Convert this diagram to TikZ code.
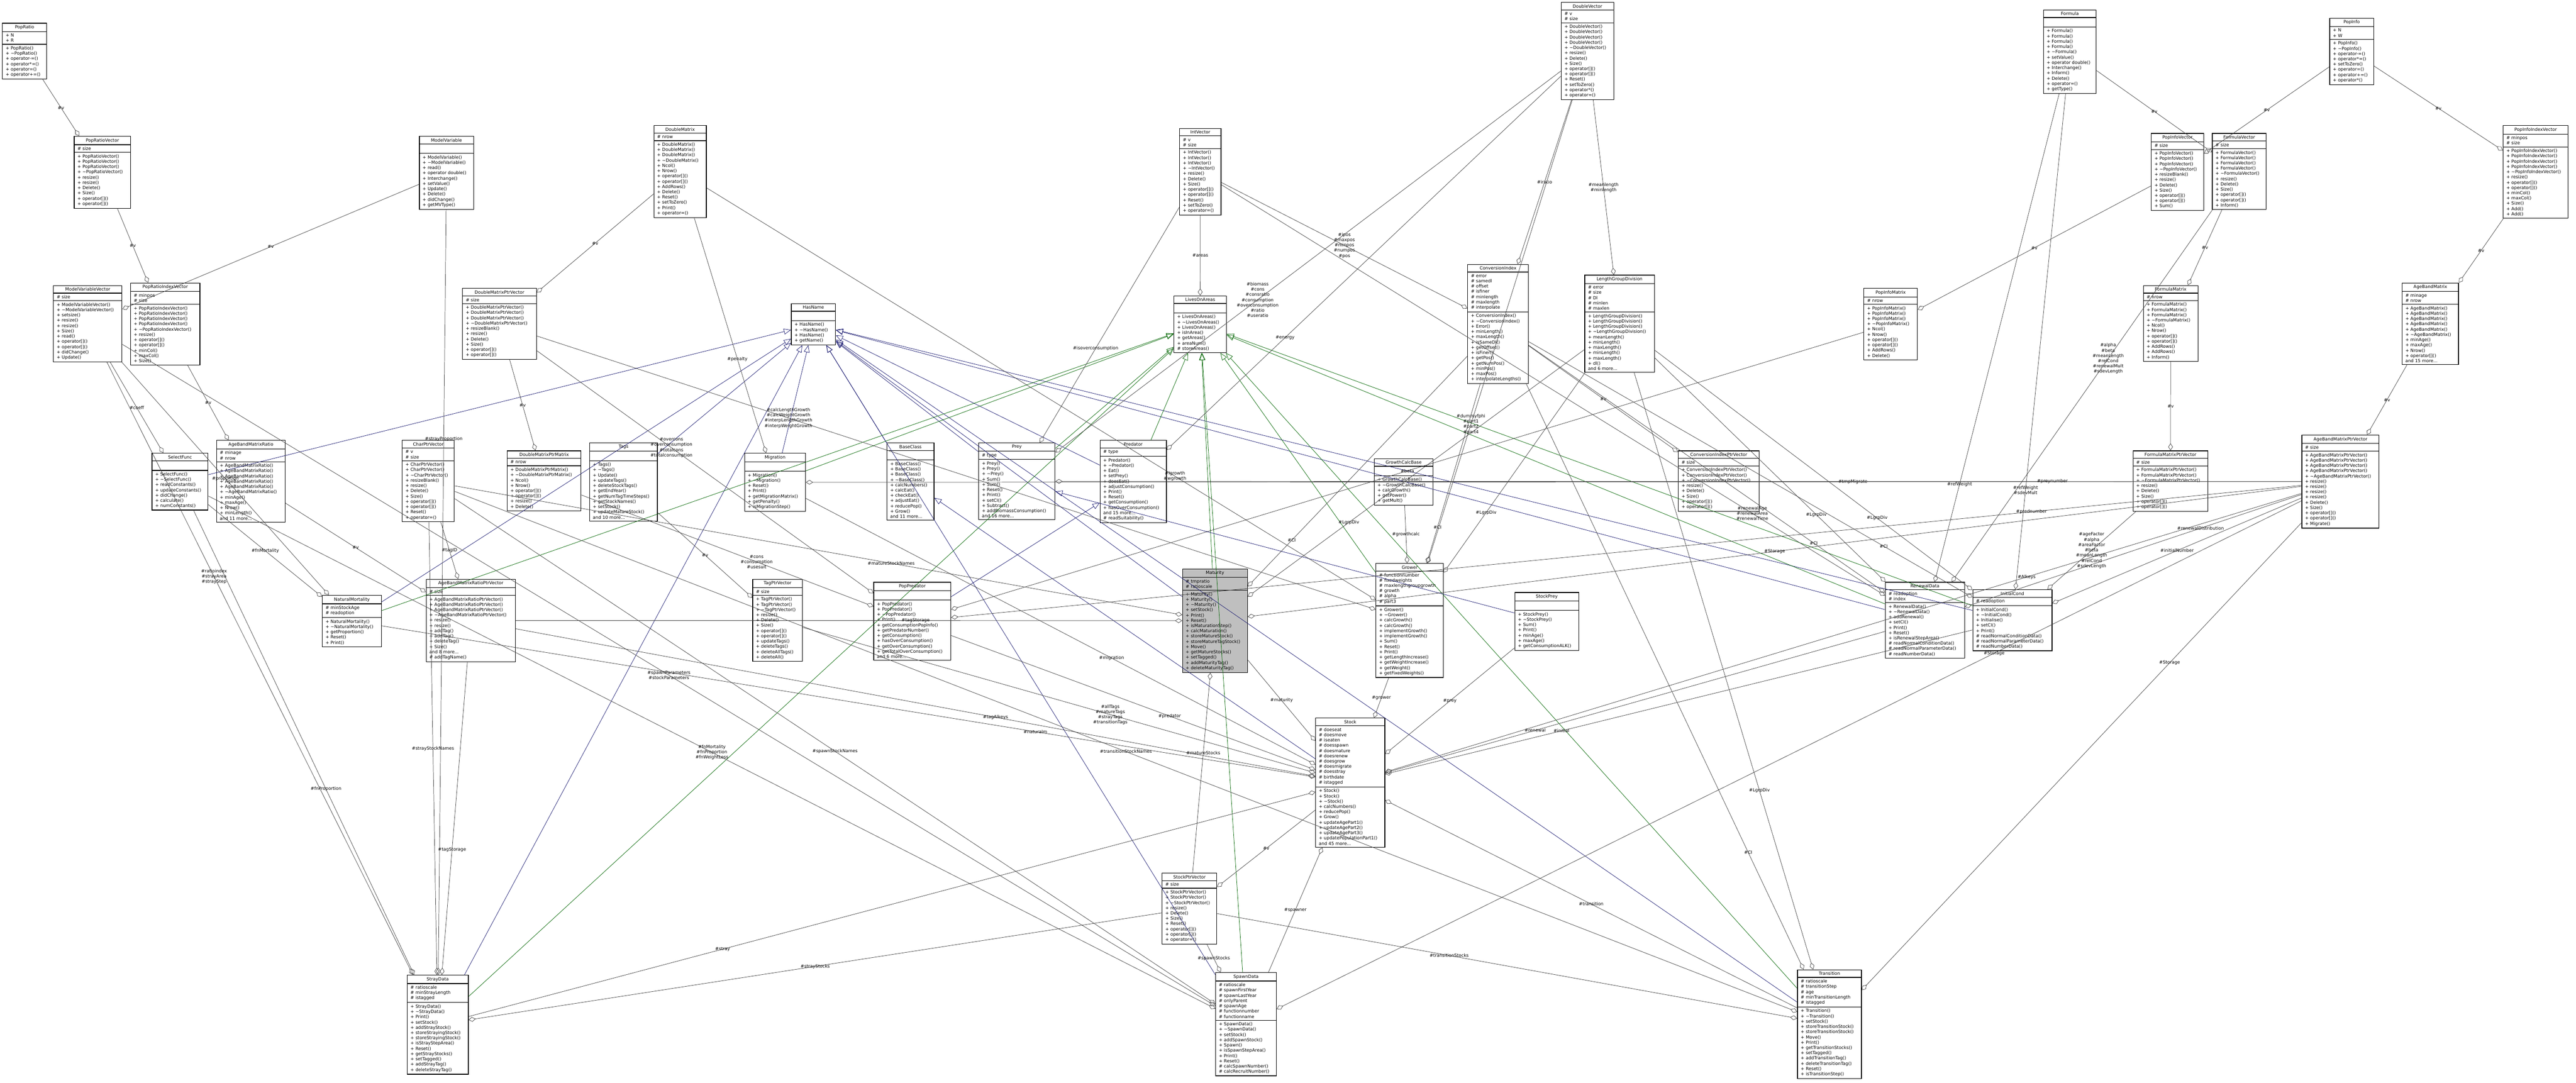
\documentclass[tikz,border=0pt]{standalone}
\usepackage{fontspec}
\usepackage{tikz}
\usetikzlibrary{shapes.multipart,arrows.meta}
\newfontfamily\clsfamily{DejaVu Sans}
\newcommand{\clsfont}{\clsfamily\fontsize{3.5}{4.2}\selectfont}
\newcommand{\til}{\textasciitilde}
\definecolor{edgegray}{HTML}{404040}
\definecolor{inhblue}{HTML}{191970}
\definecolor{inhgreen}{HTML}{006400}

\begin{document}
\begin{tikzpicture}[
    cls/.style={rectangle split, rectangle split parts=3, draw, line width=0.5pt, font=\clsfont,
        align=left, rectangle split part align={center,left,left}, inner xsep=0.9mm, inner ysep=0.5mm,
        anchor=north west, fill=white},
    agg/.style={draw=edgegray, line width=0.3pt, -{Diamond[open,length=2mm,width=1.3mm]}},
    inh/.style={draw=inhblue, line width=0.3pt, -{Triangle[open,length=2mm,width=1.6mm]}},
    inhp/.style={draw=inhgreen, line width=0.3pt, -{Triangle[open,length=2mm,width=1.6mm]}},
    lbl/.style={font=\clsfont, align=center, inner sep=0.3pt}]
\useasboundingbox (0,0) rectangle (72.17,-30.33);

% containers and vectors
\node[cls, minimum width=1.24cm] (poprat) at (0.06,-0.64) {PopRatio\nodepart{two}+ N\\+ R\nodepart{three}+ PopRatio()\\+ \til PopRatio()\\+ operator-=()\\+ operator*=()\\+ operator=()\\+ operator+=()};
\node[cls, minimum width=1.58cm] (popratvec) at (2.07,-3.81) {PopRatioVector\nodepart{two}\# size\nodepart{three}+ PopRatioVector()\\+ PopRatioVector()\\+ PopRatioVector()\\+ \til PopRatioVector()\\+ resize()\\+ resize()\\+ Delete()\\+ Size()\\+ operator[]()\\+ operator[]()};
\node[cls, minimum width=1.52cm] (modvar) at (11.74,-3.81) {ModelVariable\nodepart{two}\strut\nodepart{three}+ ModelVariable()\\+ \til ModelVariable()\\+ read()\\+ operator double()\\+ Interchange()\\+ setValue()\\+ Update()\\+ Delete()\\+ didChange()\\+ getMVType()};
\node[cls, minimum width=1.92cm] (modvarvec) at (1.49,-7.99) {ModelVariableVector\nodepart{two}\# size\nodepart{three}+ ModelVariableVector()\\+ \til ModelVariableVector()\\+ setsize()\\+ resize()\\+ resize()\\+ Size()\\+ read()\\+ operator[]()\\+ operator[]()\\+ didChange()\\+ Update()};
\node[cls, minimum width=1.94cm] (popratidx) at (3.65,-7.92) {PopRatioIndexVector\nodepart{two}\# minpos\\\# size\nodepart{three}+ PopRatioIndexVector()\\+ PopRatioIndexVector()\\+ PopRatioIndexVector()\\+ PopRatioIndexVector()\\+ \til PopRatioIndexVector()\\+ resize()\\+ operator[]()\\+ operator[]()\\+ minCol()\\+ maxCol()\\+ Size()};
\node[cls, minimum width=2.07cm] (dmptrvec) at (12.95,-8.07) {DoubleMatrixPtrVector\nodepart{two}\# size\nodepart{three}+ DoubleMatrixPtrVector()\\+ DoubleMatrixPtrVector()\\+ DoubleMatrixPtrVector()\\+ \til DoubleMatrixPtrVector()\\+ resizeBlank()\\+ resize()\\+ Delete()\\+ Size()\\+ operator[]()\\+ operator[]()};
\node[cls, minimum width=1.47cm] (dmat) at (18.31,-3.51) {DoubleMatrix\nodepart{two}\# nrow\nodepart{three}+ DoubleMatrix()\\+ DoubleMatrix()\\+ DoubleMatrix()\\+ \til DoubleMatrix()\\+ Ncol()\\+ Nrow()\\+ operator[]()\\+ operator[]()\\+ AddRows()\\+ Delete()\\+ Reset()\\+ setToZero()\\+ Print()\\+ operator=()};
\node[cls, minimum width=1.16cm] (intvec) at (33.04,-3.59) {IntVector\nodepart{two}\# v\\\# size\nodepart{three}+ IntVector()\\+ IntVector()\\+ IntVector()\\+ \til IntVector()\\+ resize()\\+ Delete()\\+ Size()\\+ operator[]()\\+ operator[]()\\+ Reset()\\+ setToZero()\\+ operator=()};
\node[cls, minimum width=1.24cm] (hasname) at (22.16,-8.50) {HasName\nodepart{two}\strut\nodepart{three}+ HasName()\\+ \til HasName()\\+ HasName()\\+ getName()};
\node[cls, minimum width=1.47cm] (lives) at (32.88,-8.28) {LivesOnAreas\nodepart{two}\strut\nodepart{three}+ LivesOnAreas()\\+ \til LivesOnAreas()\\+ LivesOnAreas()\\+ isInArea()\\+ getAreas()\\+ areaNum()\\\# storeAreas()};
\node[cls, minimum width=1.47cm] (dblvec) at (43.73,-0.06) {DoubleVector\nodepart{two}\# v\\\# size\nodepart{three}+ DoubleVector()\\+ DoubleVector()\\+ DoubleVector()\\+ DoubleVector()\\+ \til DoubleVector()\\+ resize()\\+ Delete()\\+ Size()\\+ operator[]()\\+ operator[]()\\+ Reset()\\+ setToZero()\\+ operator*()\\+ operator=()};
\node[cls, minimum width=1.70cm] (convidx) at (41.11,-7.40) {ConversionIndex\nodepart{two}\# error\\\# samedl\\\# offset\\\# isfiner\\\# minlength\\\# maxlength\\\# interpolate\nodepart{three}+ ConversionIndex()\\+ \til ConversionIndex()\\+ Error()\\+ minLength()\\+ maxLength()\\+ isSameDl()\\+ getOffset()\\+ isFiner()\\+ getPos()\\+ getNumPos()\\+ minPos()\\+ maxPos()\\+ interpolateLengths()};
\node[cls, minimum width=1.95cm] (lgrpdiv) at (44.39,-7.70) {LengthGroupDivision\nodepart{two}\# error\\\# size\\\# Dl\\\# minlen\\\# maxlen\nodepart{three}+ LengthGroupDivision()\\+ LengthGroupDivision()\\+ LengthGroupDivision()\\+ \til LengthGroupDivision()\\+ meanLength()\\+ minLength()\\+ maxLength()\\+ minLength()\\+ maxLength()\\+ dl()\\and 6 more...};
\node[cls, minimum width=1.50cm] (pimat) at (52.21,-8.07) {PopInfoMatrix\nodepart{two}\# nrow\nodepart{three}+ PopInfoMatrix()\\+ PopInfoMatrix()\\+ PopInfoMatrix()\\+ \til PopInfoMatrix()\\+ Ncol()\\+ Nrow()\\+ operator[]()\\+ operator[]()\\+ AddRows()\\+ Delete()};
\node[cls, minimum width=1.48cm] (formula) at (57.24,-0.27) {Formula\nodepart{two}\strut\nodepart{three}+ Formula()\\+ Formula()\\+ Formula()\\+ Formula()\\+ \til Formula()\\+ setValue()\\+ operator double()\\+ Interchange()\\+ Inform()\\+ Delete()\\+ operator=()\\+ getType()};
\node[cls, minimum width=1.23cm] (popinfo) at (65.26,-0.50) {PopInfo\nodepart{two}+ N\\+ W\nodepart{three}+ PopInfo()\\+ \til PopInfo()\\+ operator-=()\\+ operator*=()\\+ setToZero()\\+ operator=()\\+ operator+=()\\+ operator*()};
\node[cls, minimum width=1.47cm] (pivec) at (60.26,-3.73) {PopInfoVector\nodepart{two}\# size\nodepart{three}+ PopInfoVector()\\+ PopInfoVector()\\+ PopInfoVector()\\+ \til PopInfoVector()\\+ resizeBlank()\\+ resize()\\+ Delete()\\+ Size()\\+ operator[]()\\+ operator[]()\\+ Sum()};
\node[cls, minimum width=1.51cm] (fvec) at (61.97,-3.73) {FormulaVector\nodepart{two}\# size\nodepart{three}+ FormulaVector()\\+ FormulaVector()\\+ FormulaVector()\\+ FormulaVector()\\+ \til FormulaVector()\\+ resize()\\+ Delete()\\+ Size()\\+ operator[]()\\+ operator[]()\\+ Inform()};
\node[cls, minimum width=1.82cm] (piidx) at (70.12,-3.51) {PopInfoIndexVector\nodepart{two}\# minpos\\\# size\nodepart{three}+ PopInfoIndexVector()\\+ PopInfoIndexVector()\\+ PopInfoIndexVector()\\+ PopInfoIndexVector()\\+ \til PopInfoIndexVector()\\+ resize()\\+ operator[]()\\+ operator[]()\\+ minCol()\\+ maxCol()\\+ Size()\\+ Add()\\+ Add()};
\node[cls, minimum width=1.53cm] (fmat) at (60.04,-7.99) {FormulaMatrix\nodepart{two}\# nrow\nodepart{three}+ FormulaMatrix()\\+ FormulaMatrix()\\+ FormulaMatrix()\\+ \til FormulaMatrix()\\+ Ncol()\\+ Nrow()\\+ operator[]()\\+ operator[]()\\+ AddRows()\\+ AddRows()\\+ Inform()};
\node[cls, minimum width=1.58cm] (abmat) at (67.29,-7.92) {AgeBandMatrix\nodepart{two}\# minage\\\# nrow\nodepart{three}+ AgeBandMatrix()\\+ AgeBandMatrix()\\+ AgeBandMatrix()\\+ AgeBandMatrix()\\+ AgeBandMatrix()\\+ \til AgeBandMatrix()\\+ minAge()\\+ maxAge()\\+ Nrow()\\+ operator[]()\\and 15 more...};

% middle row
\node[cls, minimum width=1.57cm] (selfunc) at (4.25,-12.69) {SelectFunc\nodepart{two}\strut\nodepart{three}+ SelectFunc()\\+ \til SelectFunc()\\+ readConstants()\\+ updateConstants()\\+ didChange()\\+ calculate()\\+ numConstants()};
\node[cls, minimum width=1.92cm] (abmr) at (6.06,-12.33) {AgeBandMatrixRatio\nodepart{two}\# minage\\\# nrow\nodepart{three}+ AgeBandMatrixRatio()\\+ AgeBandMatrixRatio()\\+ AgeBandMatrixRatio()\\+ AgeBandMatrixRatio()\\+ AgeBandMatrixRatio()\\+ \til AgeBandMatrixRatio()\\+ minAge()\\+ maxAge()\\+ Nrow()\\+ minLength()\\and 11 more...};
\node[cls, minimum width=1.46cm] (charvec) at (11.26,-12.33) {CharPtrVector\nodepart{two}\# v\\\# size\nodepart{three}+ CharPtrVector()\\+ CharPtrVector()\\+ \til CharPtrVector()\\+ resizeBlank()\\+ resize()\\+ Delete()\\+ Size()\\+ operator[]()\\+ operator[]()\\+ Reset()\\+ operator=()};
\node[cls, minimum width=2.07cm] (dmptrmat) at (14.20,-12.62) {DoubleMatrixPtrMatrix\nodepart{two}\# nrow\nodepart{three}+ DoubleMatrixPtrMatrix()\\+ \til DoubleMatrixPtrMatrix()\\+ Ncol()\\+ Nrow()\\+ operator[]()\\+ operator[]()\\+ resize()\\+ Delete()};
\node[cls, minimum width=1.90cm] (tags) at (16.51,-12.40) {Tags\nodepart{two}\strut\nodepart{three}+ Tags()\\+ \til Tags()\\+ Update()\\+ updateTags()\\+ deleteStockTags()\\+ getEndYear()\\+ getNumTagTimeSteps()\\+ getStockNames()\\+ setStock()\\+ updateMatureStock()\\and 10 more...};
\node[cls, minimum width=1.66cm] (natmort) at (9.02,-16.67) {NaturalMortality\nodepart{two}\# minStockAge\\\# readoption\nodepart{three}+ NaturalMortality()\\+ \til NaturalMortality()\\+ getProportion()\\+ Reset()\\+ Print()};
\node[cls, minimum width=2.50cm] (abmrptr) at (11.93,-16.22) {AgeBandMatrixRatioPtrVector\nodepart{two}\# size\nodepart{three}+ AgeBandMatrixRatioPtrVector()\\+ AgeBandMatrixRatioPtrVector()\\+ AgeBandMatrixRatioPtrVector()\\+ \til AgeBandMatrixRatioPtrVector()\\+ resize()\\+ resize()\\+ addTag()\\+ addTag()\\+ deleteTag()\\+ Size()\\and 8 more...\\\# addTagName()};
\node[cls, minimum width=1.71cm] (migr) at (20.85,-12.69) {Migration\nodepart{two}\strut\nodepart{three}+ Migration()\\+ \til Migration()\\+ Reset()\\+ Print()\\+ getMigrationMatrix()\\+ getPenalty()\\+ isMigrationStep()};
\node[cls, minimum width=1.32cm] (baseclass) at (24.84,-12.40) {BaseClass\nodepart{two}\strut\nodepart{three}+ BaseClass()\\+ BaseClass()\\+ BaseClass()\\+ \til BaseClass()\\+ calcNumbers()\\+ calcEat()\\+ checkEat()\\+ adjustEat()\\+ reducePop()\\+ Grow()\\and 11 more...};
\node[cls, minimum width=2.14cm] (prey) at (27.41,-12.40) {Prey\nodepart{two}\# type\nodepart{three}+ Prey()\\+ Prey()\\+ \til Prey()\\+ Sum()\\+ Sum()\\+ Reset()\\+ Print()\\+ setCI()\\+ Subtract()\\+ addBiomassConsumption()\\and 16 more...};
\node[cls, minimum width=1.86cm] (pred) at (30.81,-12.33) {Predator\nodepart{two}\# type\nodepart{three}+ Predator()\\+ \til Predator()\\+ Eat()\\+ setPrey()\\+ doesEat()\\+ adjustConsumption()\\+ Print()\\+ Reset()\\+ getConsumption()\\+ hasOverConsumption()\\and 15 more...\\\# readSuitability()};
\node[cls, minimum width=1.39cm] (tagvec) at (21.08,-16.22) {TagPtrVector\nodepart{two}\# size\nodepart{three}+ TagPtrVector()\\+ TagPtrVector()\\+ \til TagPtrVector()\\+ resize()\\+ Delete()\\+ Size()\\+ operator[]()\\+ operator[]()\\+ updateTags()\\+ deleteTags()\\+ deleteAllTags()\\+ deleteAll()};
\node[cls, minimum width=2.16cm] (poppred) at (24.47,-16.30) {PopPredator\nodepart{two}\strut\nodepart{three}+ PopPredator()\\+ PopPredator()\\+ \til PopPredator()\\+ Print()\\+ getConsumptionPopInfo()\\+ getPredatorNumber()\\+ getConsumption()\\+ hasOverConsumption()\\+ getOverConsumption()\\+ getTotalOverConsumption()\\and 6 more...};
\node[cls, minimum width=1.82cm, fill=black!25] (matur) at (33.12,-15.93) {Maturity\nodepart{two}\# tmpratio\\\# ratioscale\nodepart{three}+ Maturity()\\+ Maturity()\\+ \til Maturity()\\+ setStock()\\+ Print()\\+ Reset()\\+ isMaturationStep()\\+ calcMaturation()\\+ storeMatureStock()\\+ storeMatureTagStock()\\+ Move()\\+ getMatureStocks()\\+ setTagged()\\+ addMaturityTag()\\+ deleteMaturityTag()};
\node[cls, minimum width=1.65cm] (growcalc) at (38.49,-12.84) {GrowthCalcBase\nodepart{two}\strut\nodepart{three}+ GrowthCalcBase()\\+ \til GrowthCalcBase()\\+ calcGrowth()\\+ getPower()\\+ getMult()};
\node[cls, minimum width=2.27cm] (ciptr) at (47.01,-12.62) {ConversionIndexPtrVector\nodepart{two}\# size\nodepart{three}+ ConversionIndexPtrVector()\\+ ConversionIndexPtrVector()\\+ \til ConversionIndexPtrVector()\\+ resize()\\+ Delete()\\+ Size()\\+ operator[]()\\+ operator[]()};
\node[cls, minimum width=1.89cm] (grower) at (38.54,-15.78) {Grower\nodepart{two}\# functionnumber\\\# fixedweights\\\# maxlengthgroupgrowth\\\# growth\\\# alpha\\\# part3\nodepart{three}+ Grower()\\+ \til Grower()\\+ calcGrowth()\\+ calcGrowth()\\+ implementGrowth()\\+ implementGrowth()\\+ Sum()\\+ Reset()\\+ Print()\\+ getLengthIncrease()\\+ getWeightIncrease()\\+ getWeight()\\+ getFixedWeights()};
\node[cls, minimum width=1.79cm] (stockprey) at (42.43,-16.59) {StockPrey\nodepart{two}\strut\nodepart{three}+ StockPrey()\\+ \til StockPrey()\\+ Sum()\\+ Print()\\+ minAge()\\+ maxAge()\\+ getConsumptionALK()};
\node[cls, minimum width=2.22cm] (renewal) at (52.81,-16.30) {RenewalData\nodepart{two}\# readoption\\\# index\nodepart{three}+ RenewalData()\\+ \til RenewalData()\\+ addRenewal()\\+ setCI()\\+ Print()\\+ Reset()\\+ isRenewalStepArea()\\\# readNormalConditionData()\\\# readNormalParameterData()\\\# readNumberData()};
\node[cls, minimum width=2.22cm] (initcond) at (55.26,-16.51) {InitialCond\nodepart{two}\# readoption\nodepart{three}+ InitialCond()\\+ \til InitialCond()\\+ Initialise()\\+ setCI()\\+ Print()\\\# readNormalConditionData()\\\# readNormalParameterData()\\\# readNumberData()};
\node[cls, minimum width=2.10cm] (fmptr) at (59.75,-12.62) {FormulaMatrixPtrVector\nodepart{two}\# size\nodepart{three}+ FormulaMatrixPtrVector()\\+ FormulaMatrixPtrVector()\\+ \til FormulaMatrixPtrVector()\\+ resize()\\+ Delete()\\+ Size()\\+ operator[]()\\+ operator[]()};
\node[cls, minimum width=2.16cm] (abmptr) at (64.48,-12.18) {AgeBandMatrixPtrVector\nodepart{two}\# size\nodepart{three}+ AgeBandMatrixPtrVector()\\+ AgeBandMatrixPtrVector()\\+ AgeBandMatrixPtrVector()\\+ AgeBandMatrixPtrVector()\\+ \til AgeBandMatrixPtrVector()\\+ resize()\\+ resize()\\+ resize()\\+ resize()\\+ Delete()\\+ Size()\\+ operator[]()\\+ operator[]()\\+ Migrate()};

% bottom row
\node[cls, minimum width=1.71cm] (stray) at (11.40,-27.31) {StrayData\nodepart{two}\# ratioscale\\\# minStrayLength\\\# istagged\nodepart{three}+ StrayData()\\+ \til StrayData()\\+ Print()\\+ setStock()\\+ addStrayStock()\\+ storeStrayingStock()\\+ storeStrayingStock()\\+ isStrayStepArea()\\+ Reset()\\+ getStrayStocks()\\+ setTagged()\\+ addStrayTag()\\+ deleteStrayTag()};
\node[cls, minimum width=1.53cm] (stockvec) at (32.55,-24.45) {StockPtrVector\nodepart{two}\# size\nodepart{three}+ StockPtrVector()\\+ StockPtrVector()\\+ \til StockPtrVector()\\+ resize()\\+ Delete()\\+ Size()\\+ Reset()\\+ operator[]()\\+ operator[]()\\+ operator=()};
\node[cls, minimum width=1.70cm] (spawn) at (34.05,-27.24) {SpawnData\nodepart{two}\# ratioscale\\\# spawnFirstYear\\\# spawnLastYear\\\# onlyParent\\\# spawnAge\\\# functionnumber\\\# functionname\nodepart{three}+ SpawnData()\\+ \til SpawnData()\\+ setStock()\\+ addSpawnStock()\\+ Spawn()\\+ isSpawnStepArea()\\+ Print()\\+ Reset()\\\# calcSpawnNumber()\\\# calcRecruitNumber()};
\node[cls, minimum width=1.94cm] (stock) at (36.85,-20.11) {Stock\nodepart{two}\# doeseat\\\# doesmove\\\# iseaten\\\# doesspawn\\\# doesmature\\\# doesrenew\\\# doesgrow\\\# doesmigrate\\\# doesstray\\\# birthdate\\\# istagged\nodepart{three}+ Stock()\\+ Stock()\\+ \til Stock()\\+ calcNumbers()\\+ reducePop()\\+ Grow()\\+ updateAgePart1()\\+ updateAgePart2()\\+ updateAgePart3()\\+ updatePopulationPart1()\\and 45 more...};
\node[cls, minimum width=1.79cm] (trans) at (50.35,-27.16) {Transition\nodepart{two}\# ratioscale\\\# transitionStep\\\# age\\\# minTransitionLength\\\# istagged\nodepart{three}+ Transition()\\+ \til Transition()\\+ setStock()\\+ storeTransitionStock()\\+ storeTransitionStock()\\+ Move()\\+ Print()\\+ getTransitionStocks()\\+ setTagged()\\+ addTransitionTag()\\+ deleteTransitionTag()\\+ Reset()\\+ isTransitionStep()};

% inheritance
\foreach \kid in {selfunc,tags,natmort,migr,baseclass,prey,pred,stray,spawn,trans,matur,renewal,initcond}
    \draw[inh] (\kid) -- (hasname);
\foreach \kid in {migr,prey,pred,matur,grower,renewal,initcond,trans,spawn,stray,natmort}
    \draw[inhp] (\kid) -- (lives);
\draw[inh] (stock) -- (baseclass);
\draw[inh] (poppred) -- (pred);
\draw[inh] (stockprey) -- (prey);

% members
\draw[agg] (poprat) -- node[lbl]{\#v} (popratvec);
\draw[agg] (popratvec) -- node[lbl]{\#v} (popratidx);
\draw[agg] (modvar) -- node[lbl]{\#v} (modvarvec);
\draw[agg] (dmat) -- node[lbl]{\#v} (dmptrvec);
\draw[agg] (dmptrvec) -- node[lbl]{\#v} (dmptrmat);
\draw[agg] (popratidx) -- node[lbl]{\#v} (abmr);
\draw[agg] (abmr) -- node[lbl]{\#v} (abmrptr);
\draw[agg] (charvec) -- node[lbl]{\#tagID} (abmrptr);
\draw[agg] (modvarvec) -- node[lbl]{\#coeff} (selfunc);
\draw[agg] (modvarvec) -- node[lbl]{\#proportion} (natmort);
\draw[agg] (selfunc) -- node[lbl]{\#fnMortality} (natmort);
\draw[agg] (intvec) -- node[lbl]{\#areas} (lives);
\draw[agg] (intvec) -- node[lbl]{\#ipos\\\#maxpos\\\#minpos\\\#numpos\\\#pos} (convidx);
\draw[agg] (dblvec) -- node[lbl]{\#iratio} (convidx);
\draw[agg] (dblvec) -- node[lbl]{\#meanlength\\\#minlength} (lgrpdiv);
\draw[agg] (dblvec) -- node[lbl, pos=0.7]{\#dummyfphi\\\#part1\\\#part2\\\#part4} (grower);
\draw[agg] (dblvec) -- node[lbl, pos=0.6]{\#biomass\\\#cons\\\#consratio\\\#consumption\\\#overconsumption\\\#ratio\\\#useratio} (prey);
\draw[agg] (dblvec) -- node[lbl, pos=0.7]{\#energy} (pred);
\draw[agg] (intvec) -- node[lbl, pos=0.6]{\#isoverconsumption} (prey);
\draw[agg] (dmat) -- node[lbl, pos=0.6]{\#penalty} (migr);
\draw[agg] (dmat) -- node[lbl, pos=0.7]{\#lgrowth\\\#wgrowth} (grower);
\draw[agg] (dmptrvec) -- node[lbl, pos=0.4]{\#overcons\\\#overconsumption\\\#totalcons\\\#totalconsumption} (poppred);
\draw[agg] (dmptrmat) -- node[lbl, pos=0.6]{\#cons\\\#consumption\\\#usesuit} (poppred);
\draw[agg] (dmptrvec) -- node[lbl, pos=0.3]{\#calcLengthGrowth\\\#calcWeightGrowth\\\#interpLengthGrowth\\\#interpWeightGrowth} (grower);
\draw[agg] (convidx) -- node[lbl]{\#v} (ciptr);
\draw[agg] (growcalc) -- node[lbl]{\#growthcalc} (grower);
\draw[agg] (tags) -- node[lbl]{\#v} (tagvec);
\draw[agg] (charvec) -- node[lbl, pos=0.6]{\#matureStockNames} (matur);
\draw[agg] (matur) -- node[lbl]{\#maturity} (stock);
\draw[agg] (grower) -- node[lbl]{\#grower} (stock);
\draw[agg] (stockprey) -- node[lbl]{\#prey} (stock);
\draw[agg] (poppred) -- node[lbl, pos=0.6]{\#predator} (stock);
\draw[agg] (migr) -- node[lbl, pos=0.6]{\#migration} (stock);
\draw[agg] (natmort) -- node[lbl, pos=0.7]{\#naturalm} (stock);
\draw[agg] (renewal) -- node[lbl, pos=0.7]{\#renewal} (stock);
\draw[agg] (initcond) -- node[lbl, pos=0.7]{\#initial} (stock);
\draw[agg] (spawn) -- node[lbl]{\#spawner} (stock);
\draw[agg] (trans) -- node[lbl]{\#transition} (stock);
\draw[agg] (stray) -- node[lbl, pos=0.3]{\#stray} (stock);
\draw[agg] (tagvec) -- node[lbl, pos=0.6]{\#allTags\\\#matureTags\\\#strayTags\\\#transitionTags} (stock);
\draw[agg] (abmrptr) -- node[lbl, pos=0.6]{\#tagAlkeys} (stock);
\draw[agg] (stock) -- node[lbl]{\#v} (stockvec);
\draw[agg] (stockvec) -- node[lbl, pos=0.6]{\#matureStocks} (matur);
\draw[agg] (stockvec) -- node[lbl, pos=0.5]{\#strayStocks} (stray);
\draw[agg] (stockvec) -- node[lbl]{\#spawnStocks} (spawn);
\draw[agg] (stockvec) -- node[lbl, pos=0.4]{\#transitionStocks} (trans);
\draw[agg] (charvec) -- node[lbl, pos=0.5]{\#strayStockNames} (stray);
\draw[agg] (charvec) -- node[lbl, pos=0.5]{\#spawnStockNames} (spawn);
\draw[agg] (charvec) -- node[lbl, pos=0.5]{\#transitionStockNames} (trans);
\draw[agg] (selfunc) -- node[lbl, pos=0.6]{\#fnProportion} (stray);
\draw[agg] (selfunc) -- node[lbl, pos=0.5]{\#fnMortality\\\#fnProportion\\\#fnWeightLoss} (spawn);
\draw[agg] (modvarvec) -- node[lbl, pos=0.5]{\#spawnParameters\\\#stockParameters} (spawn);
\draw[agg] (modvarvec) -- node[lbl, pos=0.35]{\#ratioindex\\\#strayArea\\\#strayStep} (stray);
\draw[agg] (modvar) -- node[lbl, pos=0.3]{\#strayProportion} (stray);
\draw[agg] (abmrptr) -- node[lbl, pos=0.6]{\#tagStorage} (stray);
\draw[agg] (abmrptr) -- node[lbl, pos=0.6]{\#tagStorage} (matur);
\draw[agg] (abmptr) -- node[lbl, pos=0.3]{\#Storage} (trans);
\draw[agg] (abmptr) -- node[lbl, pos=0.3]{\#Storage} (spawn);
\draw[agg] (abmptr) -- node[lbl, pos=0.5]{\#Storage} (matur);
\draw[agg] (abmptr) -- node[lbl, pos=0.3]{\#Alkeys} (stock);
\draw[agg] (abmptr) -- node[lbl, pos=0.3]{\#tmpMigrate} (migr);
\draw[agg] (abmptr) -- node[lbl, pos=0.3]{\#renewalDistribution} (renewal);
\draw[agg] (abmptr) -- node[lbl, pos=0.5]{\#initialNumber} (initcond);
\draw[agg] (abmptr) -- node[lbl, pos=0.2]{\#preynumber} (prey);
\draw[agg] (abmptr) -- node[lbl, pos=0.2]{\#prednumber} (poppred);
\draw[agg] (formula) -- node[lbl]{\#v} (fvec);
\draw[agg] (fvec) -- node[lbl]{\#v} (fmat);
\draw[agg] (fmat) -- node[lbl]{\#v} (fmptr);
\draw[agg] (popinfo) -- node[lbl]{\#v} (pivec);
\draw[agg] (popinfo) -- node[lbl]{\#v} (piidx);
\draw[agg] (piidx) -- node[lbl]{\#v} (abmat);
\draw[agg] (abmat) -- node[lbl]{\#v} (abmptr);
\draw[agg] (pivec) -- node[lbl]{\#v} (pimat);
\draw[agg] (pimat) -- node[lbl]{\#beta} (poppred);
\draw[agg] (formula) -- node[lbl, pos=0.8]{\#refWeight} (renewal);
\draw[agg] (formula) -- node[lbl, pos=0.8]{\#refWeight\\\#sdevMult} (initcond);
\draw[agg] (fvec) -- node[lbl, pos=0.4]{\#alpha\\\#beta\\\#meanLength\\\#relCond\\\#renewalMult\\\#sdevLength} (renewal);
\draw[agg] (fmptr) -- node[lbl]{\#ageFactor\\\#alpha\\\#areaFactor\\\#beta\\\#meanLength\\\#relCond\\\#sdevLength} (initcond);
\draw[agg] (intvec) -- node[lbl, pos=0.8]{\#renewalAge\\\#renewalArea\\\#renewalTime} (renewal);
\foreach \who in {renewal,initcond,grower,matur,trans}
    \draw[agg] (lgrpdiv) -- node[lbl, pos=0.7]{\#LgrpDiv} (\who);
\foreach \who in {renewal,initcond,grower,matur,trans}
    \draw[agg] (convidx) -- node[lbl, pos=0.8]{\#CI} (\who);
\end{tikzpicture}
\end{document}
